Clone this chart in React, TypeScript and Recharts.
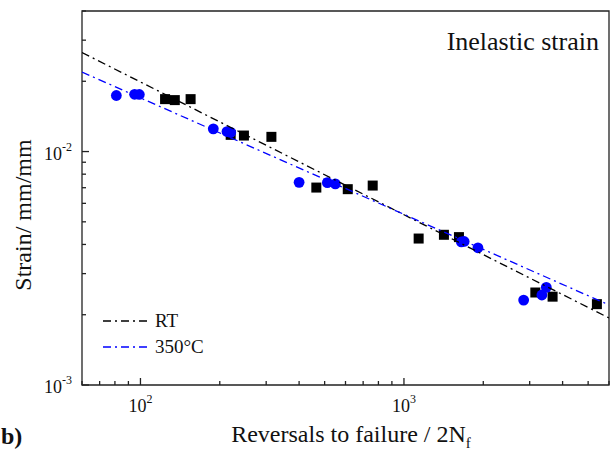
import React from 'react';
import { ScatterChart, Scatter, XAxis, YAxis, ReferenceArea } from 'recharts';

// RT (black squares)
const rtCycles = [124, 135, 155, 220, 247, 314, 465, 612, 761, 1137, 1418, 1617, 3152, 3665, 5398];
const rtStrain = [0.01677, 0.01661, 0.01677, 0.01179, 0.01171, 0.01156, 0.00701, 0.0069, 0.00715, 0.00424, 0.0044, 0.0043, 0.00249, 0.00239, 0.00222];

// 350°C (blue circles)
const hotCycles = [81, 95, 99, 189, 213, 220, 400, 512, 549, 1651, 1692, 1909, 2846, 3338, 3469];
const hotStrain = [0.01738, 0.01759, 0.01756, 0.01251, 0.01218, 0.01208, 0.00738, 0.00736, 0.00727, 0.0041, 0.00412, 0.00387, 0.00231, 0.00243, 0.00262];

// fitted lines, end points
const fitCycles = [60, 6000];
const rtFit = [0.02656, 0.001937];
const hotFit = [0.0219, 0.002203];

const xTicks = [60, 70, 80, 90, 100, 200, 300, 400, 500, 600, 700, 800, 900, 1000, 2000, 3000, 4000, 5000, 6000];
const yTicks = [0.001, 0.002, 0.003, 0.004, 0.005, 0.006, 0.007, 0.008, 0.009, 0.01, 0.02, 0.03, 0.04];

const FONT = '"Liberation Serif", "Times New Roman", serif';
const AXIS = '#222';
const BLUE = '#0000ff';
const DASH = '8 4 2 4';

const zip = (xs: number[], ys: number[]) => xs.map((x, i) => ({ x, y: ys[i] }));

const rtData = zip(rtCycles, rtStrain);
const hotData = zip(hotCycles, hotStrain);
const rtLine = zip(fitCycles, rtFit);
const hotLine = zip(fitCycles, hotFit);

function exponent(v: number) {
  const e = Math.log10(v);
  return Math.abs(e - Math.round(e)) < 1e-9 ? Math.round(e) : null;
}

function XTick(props: any) {
  const { x, y, payload } = props;
  const e = exponent(payload.value);
  return (
    <g>
      <line x1={x} x2={x} y1={y} y2={y - (e !== null ? 7 : 4)} stroke={AXIS} strokeWidth={1.3} />
      {e !== null && (
        <text x={x} y={y + 27} textAnchor="middle" fontFamily={FONT} fontSize={18} fill="#111">
          10
          <tspan dy={-9} fontSize={12}>{e}</tspan>
        </text>
      )}
    </g>
  );
}

function YTick(props: any) {
  const { x, y, payload } = props;
  const e = exponent(payload.value);
  return (
    <g>
      <line x1={x} x2={x + (e !== null ? 7 : 4)} y1={y} y2={y} stroke={AXIS} strokeWidth={1.3} />
      {e !== null && (
        <text x={x - 10} y={y + 8} textAnchor="end" fontFamily={FONT} fontSize={18} fill="#111">
          10
          <tspan dy={-9} fontSize={12}>{e}</tspan>
        </text>
      )}
    </g>
  );
}

const square = (p: any) => <rect x={p.cx - 5} y={p.cy - 5} width={10} height={10} fill="#000" />;
const dot = (p: any) => <circle cx={p.cx} cy={p.cy} r={5.4} fill={BLUE} />;
const none = () => <g />;

export default function App() {
  return (
    <div style={{ position: 'absolute', left: 0, top: 0, width: 611, height: 451, background: '#fff' }}>
      <ScatterChart width={611} height={451} margin={{ top: 11, right: 2, left: 0, bottom: 0 }}>
        <XAxis
          dataKey="x"
          type="number"
          scale="log"
          domain={[60, 6000]}
          allowDataOverflow
          ticks={xTicks}
          interval={0}
          height={66}
          tickSize={0}
          tickMargin={0}
          axisLine={false}
          tickLine={false}
          tick={XTick}
        />
        <YAxis
          dataKey="y"
          type="number"
          scale="log"
          domain={[0.001, 0.04]}
          allowDataOverflow
          ticks={yTicks}
          interval={0}
          width={82}
          tickSize={0}
          tickMargin={0}
          axisLine={false}
          tickLine={false}
          tick={YTick}
        />
        <ReferenceArea
          x1={60}
          x2={6000}
          y1={0.001}
          y2={0.04}
          fill="none"
          stroke={AXIS}
          strokeWidth={1.3}
          ifOverflow="visible"
        />
        <Scatter data={rtData} shape={square} isAnimationActive={false} />
        <Scatter data={hotData} shape={dot} isAnimationActive={false} />
        <Scatter
          data={rtLine}
          shape={none}
          line={{ stroke: '#000', strokeWidth: 1.3, strokeDasharray: DASH }}
          isAnimationActive={false}
        />
        <Scatter
          data={hotLine}
          shape={none}
          line={{ stroke: BLUE, strokeWidth: 1.3, strokeDasharray: DASH }}
          isAnimationActive={false}
        />
      </ScatterChart>

      {/* legend, titles and axis labels */}
      <svg width={611} height={451} style={{ position: 'absolute', left: 0, top: 0, pointerEvents: 'none' }}>
        <g fontFamily={FONT} fill="#111">
          <line x1={103} x2={151} y1={321} y2={321} stroke="#000" strokeWidth={1.3} strokeDasharray={DASH} />
          <text x={155} y={327} fontSize={19}>RT</text>
          <line x1={103} x2={151} y1={347} y2={347} stroke={BLUE} strokeWidth={1.3} strokeDasharray={DASH} />
          <text x={155} y={353} fontSize={19}>350°C</text>

          <text x={599} y={50} fontSize={26} textAnchor="end">Inelastic strain</text>

          <text x={351} y={442} fontSize={24} textAnchor="middle">
            Reversals to failure / 2N
            <tspan dy={6} fontSize={15}>f</tspan>
          </text>
          <text x={31} y={215} fontSize={24} textAnchor="middle" transform="rotate(-90 31 215)">
            Strain/ mm/mm
          </text>
          <text x={1} y={444} fontSize={24} fontWeight="bold">b)</text>
        </g>
      </svg>
    </div>
  );
}
